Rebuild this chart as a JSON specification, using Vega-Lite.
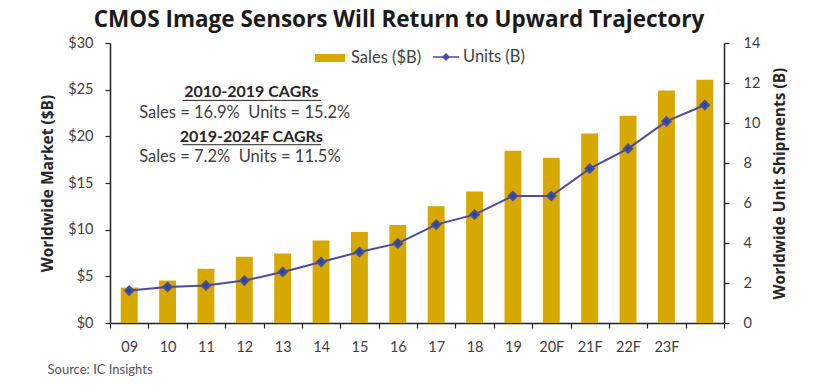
{
  "$schema": "https://vega.github.io/schema/vega-lite/v6.json",
  "width": 614,
  "height": 280,
  "autosize": "none",
  "padding": {"left": 110, "top": 43, "right": 108, "bottom": 67},
  "background": "white",
  "config": {
    "font": "Lato",
    "view": {"stroke": null},
    "axis": {"domainColor": "#222222", "tickColor": "#222222", "domainWidth": 1.5, "tickWidth": 1.2, "labelColor": "#404040", "labelFont": "Lato", "labelFontSize": 14.5, "titleFont": "Open Sans", "titleColor": "#262626", "grid": false, "labelOverlap": false}
  },
  "title": {"text": "CMOS Image Sensors Will Return to Upward Trajectory", "font": "Open Sans", "fontSize": 22.5, "fontWeight": "bold", "color": "#1a1a1a", "anchor": "middle", "frame": "group", "dx": -18, "offset": 4},
  "datasets": {
    "cmos": [
      {"year": "09", "sales": 3.8, "units": 1.62},
      {"year": "10", "sales": 4.55, "units": 1.8},
      {"year": "11", "sales": 5.8, "units": 1.88},
      {"year": "12", "sales": 7.1, "units": 2.12},
      {"year": "13", "sales": 7.45, "units": 2.55},
      {"year": "14", "sales": 8.85, "units": 3.05},
      {"year": "15", "sales": 9.75, "units": 3.55},
      {"year": "16", "sales": 10.5, "units": 3.98},
      {"year": "17", "sales": 12.5, "units": 4.92},
      {"year": "18", "sales": 14.1, "units": 5.42},
      {"year": "19", "sales": 18.45, "units": 6.35},
      {"year": "20F", "sales": 17.7, "units": 6.35},
      {"year": "21F", "sales": 20.3, "units": 7.72},
      {"year": "22F", "sales": 22.2, "units": 8.72},
      {"year": "23F", "sales": 24.9, "units": 10.08},
      {"year": "24F", "sales": 26.05, "units": 10.9}
    ],
    "headers": [
      {"label": "2010-2019 CAGRs", "year": "12", "v": 24.72},
      {"label": "2019-2024F CAGRs", "year": "12", "v": 19.97}
    ],
    "lines": [
      {"label": "Sales = 16.9%\u00a0 Units = 15.2%", "year": "09", "v": 22.54},
      {"label": "Sales = 7.2%\u00a0 Units = 11.5%", "year": "09", "v": 17.83}
    ],
    "underlines": [
      {"v": 23.85},
      {"v": 19.1}
    ]
  },
  "layer": [
    {
      "layer": [
        {
          "data": {"name": "cmos"},
          "mark": {"type": "bar", "width": {"band": 0.44}},
          "encoding": {
            "x": {"field": "year", "type": "ordinal", "sort": null,
              "scale": {"type": "band", "paddingInner": 0, "paddingOuter": 0},
              "axis": {"title": "Source: IC Insights", "titleFont": "Lato", "titleAnchor": "start", "titleAlign": "left", "titleX": -63, "titleY": 46, "titleBaseline": "middle", "titleFontSize": 13, "titleFontWeight": "normal", "titleColor": "#555555", "tickBand": "extent", "labelAngle": 0, "labelPadding": 12, "tickSize": 5, "labelExpr": "datum.value == '24F' ? '' : datum.value"}},
            "y": {"field": "sales", "type": "quantitative", "scale": {"domain": [0, 30], "nice": false},
              "axis": {"title": "Worldwide Market ($B)", "values": [0, 5, 10, 15, 20, 25, 30], "format": "$.0f", "tickSize": 5, "labelPadding": 12, "titleFontSize": 15.5, "titleFontWeight": "bold", "titlePadding": 12}},
            "fill": {"datum": "Sales ($B)", "type": "nominal", "scale": {"range": ["#d6a800"]},
              "legend": {"orient": "none", "legendX": 205, "legendY": 0, "direction": "horizontal", "title": null, "symbolType": "M-1,-0.27H1V0.27H-1Z", "symbolSize": 900, "symbolStrokeWidth": 0, "labelFontSize": 16.5, "labelColor": "#404040", "labelFont": "Lato", "labelOffset": 6}}
          }
        },
        {
          "data": {"name": "headers"},
          "mark": {"type": "text", "align": "center", "baseline": "middle", "dx": 7, "fontSize": 16, "fontWeight": "bold", "color": "#262626"},
          "encoding": {
            "x": {"field": "year", "type": "ordinal", "sort": null},
            "y": {"field": "v", "type": "quantitative"},
            "text": {"field": "label"}
          }
        },
        {
          "data": {"name": "lines"},
          "mark": {"type": "text", "align": "left", "baseline": "middle", "dx": 10, "fontSize": 16.5, "color": "#404040"},
          "encoding": {
            "x": {"field": "year", "type": "ordinal", "sort": null},
            "y": {"field": "v", "type": "quantitative"},
            "text": {"field": "label"}
          }
        },
        {
          "data": {"name": "underlines"},
          "mark": {"type": "rule", "color": "#262626", "strokeWidth": 1},
          "encoding": {
            "x": {"datum": "11", "type": "ordinal", "bandPosition": -0.11},
            "x2": {"datum": "14", "bandPosition": 0.5},
            "y": {"field": "v", "type": "quantitative"}
          }
        }
      ]
    },
    {
      "data": {"name": "cmos"},
      "mark": {"type": "line", "strokeWidth": 2, "point": {"shape": "diamond", "filled": true, "size": 70, "color": "#1f4e8c", "opacity": 1}},
      "encoding": {
        "x": {"field": "year", "type": "ordinal", "sort": null},
        "y": {"field": "units", "type": "quantitative", "scale": {"domain": [0, 14], "nice": false},
          "axis": {"orient": "right", "title": "Worldwide Unit Shipments (B)", "values": [0, 2, 4, 6, 8, 10, 12, 14], "tickCount": 8, "tickSize": 5, "labelPadding": 14, "titleFontSize": 15.5, "titleFontWeight": "bold", "titleAngle": 270, "titlePadding": 28}},
        "stroke": {"datum": "Units (B)", "type": "nominal", "scale": {"range": ["#4b4ba6"]},
          "legend": {"orient": "none", "legendX": 322, "legendY": 0, "direction": "horizontal", "title": null, "symbolType": "M-1,0H1M0,-0.22L0.22,0L0,0.22L-0.22,0Z", "symbolSize": 676, "symbolFillColor": "#1f4e8c", "symbolStrokeWidth": 1.5, "labelFontSize": 16.5, "labelColor": "#404040", "labelFont": "Lato", "labelOffset": 3}}
      }
    }
  ],
  "resolve": {"scale": {"y": "independent"}}
}
